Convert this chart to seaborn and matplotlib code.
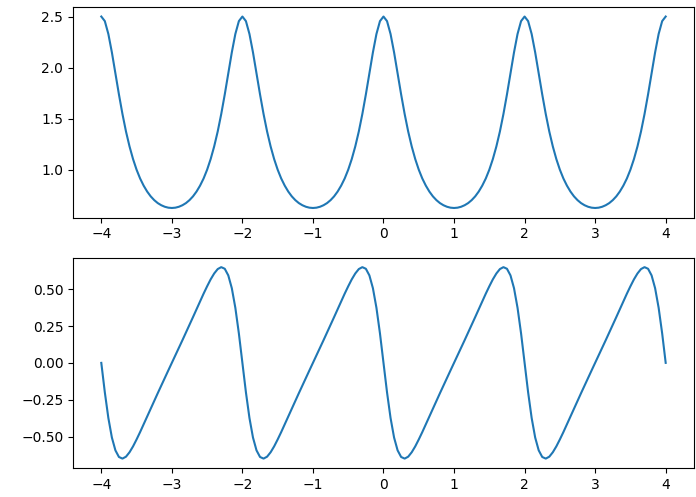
import numpy as np
import pandas as pd
import matplotlib
matplotlib.use("Agg")
import matplotlib.pyplot as plt
import seaborn as sns

# sample grid along x (step 0.05 from -4 to 4)
x_vals = np.linspace(-4, 4, 161)

# upper curve, values (one row per period of length 2)
top_vals = [
    2.500, 2.455, 2.329, 2.149, 1.943, 1.737, 1.545, 1.374, 1.228, 1.104,
    1.000, 0.914, 0.844, 0.786, 0.739, 0.702, 0.673, 0.652, 0.637, 0.628,
    0.625, 0.628, 0.637, 0.652, 0.673, 0.702, 0.739, 0.786, 0.844, 0.914,
    1.000, 1.104, 1.228, 1.374, 1.545, 1.737, 1.943, 2.149, 2.329, 2.455,
    2.500, 2.455, 2.329, 2.149, 1.943, 1.737, 1.545, 1.374, 1.228, 1.104,
    1.000, 0.914, 0.844, 0.786, 0.739, 0.702, 0.673, 0.652, 0.637, 0.628,
    0.625, 0.628, 0.637, 0.652, 0.673, 0.702, 0.739, 0.786, 0.844, 0.914,
    1.000, 1.104, 1.228, 1.374, 1.545, 1.737, 1.943, 2.149, 2.329, 2.455,
    2.500, 2.455, 2.329, 2.149, 1.943, 1.737, 1.545, 1.374, 1.228, 1.104,
    1.000, 0.914, 0.844, 0.786, 0.739, 0.702, 0.673, 0.652, 0.637, 0.628,
    0.625, 0.628, 0.637, 0.652, 0.673, 0.702, 0.739, 0.786, 0.844, 0.914,
    1.000, 1.104, 1.228, 1.374, 1.545, 1.737, 1.943, 2.149, 2.329, 2.455,
    2.500, 2.455, 2.329, 2.149, 1.943, 1.737, 1.545, 1.374, 1.228, 1.104,
    1.000, 0.914, 0.844, 0.786, 0.739, 0.702, 0.673, 0.652, 0.637, 0.628,
    0.625, 0.628, 0.637, 0.652, 0.673, 0.702, 0.739, 0.786, 0.844, 0.914,
    1.000, 1.104, 1.228, 1.374, 1.545, 1.737, 1.943, 2.149, 2.329, 2.455,
    2.500,
]

# lower curve
bottom_vals = [
    0.000, -0.200, -0.374, -0.507, -0.594, -0.639, -0.650, -0.637, -0.607, -0.567,
    -0.520, -0.470, -0.417, -0.364, -0.311, -0.258, -0.206, -0.154, -0.102, -0.051,
    0.000, 0.051, 0.102, 0.154, 0.206, 0.258, 0.311, 0.364, 0.417, 0.470,
    0.520, 0.567, 0.607, 0.637, 0.650, 0.639, 0.594, 0.507, 0.374, 0.200,
    0.000, -0.200, -0.374, -0.507, -0.594, -0.639, -0.650, -0.637, -0.607, -0.567,
    -0.520, -0.470, -0.417, -0.364, -0.311, -0.258, -0.206, -0.154, -0.102, -0.051,
    0.000, 0.051, 0.102, 0.154, 0.206, 0.258, 0.311, 0.364, 0.417, 0.470,
    0.520, 0.567, 0.607, 0.637, 0.650, 0.639, 0.594, 0.507, 0.374, 0.200,
    0.000, -0.200, -0.374, -0.507, -0.594, -0.639, -0.650, -0.637, -0.607, -0.567,
    -0.520, -0.470, -0.417, -0.364, -0.311, -0.258, -0.206, -0.154, -0.102, -0.051,
    0.000, 0.051, 0.102, 0.154, 0.206, 0.258, 0.311, 0.364, 0.417, 0.470,
    0.520, 0.567, 0.607, 0.637, 0.650, 0.639, 0.594, 0.507, 0.374, 0.200,
    0.000, -0.200, -0.374, -0.507, -0.594, -0.639, -0.650, -0.637, -0.607, -0.567,
    -0.520, -0.470, -0.417, -0.364, -0.311, -0.258, -0.206, -0.154, -0.102, -0.051,
    0.000, 0.051, 0.102, 0.154, 0.206, 0.258, 0.311, 0.364, 0.417, 0.470,
    0.520, 0.567, 0.607, 0.637, 0.650, 0.639, 0.594, 0.507, 0.374, 0.200,
    0.000,
]

df = pd.DataFrame({"x": x_vals, "top": top_vals, "bottom": bottom_vals})

fig, (ax1, ax2) = plt.subplots(2, 1, figsize=(6.96, 4.97), dpi=100)
fig.subplots_adjust(left=0.105, right=0.997, top=0.986, bottom=0.058, hspace=0.19)

sns.lineplot(data=df, x="x", y="top", ax=ax1, color="#1f77b4", estimator=None)
sns.lineplot(data=df, x="x", y="bottom", ax=ax2, color="#1f77b4", estimator=None)

for ax in (ax1, ax2):
    ax.set_xlabel("")
    ax.set_ylabel("")

ax1.set_yticks([1.0, 1.5, 2.0, 2.5])
ax2.set_yticks([-0.5, -0.25, 0.0, 0.25, 0.5])

plt.savefig("out.png", dpi=100)
